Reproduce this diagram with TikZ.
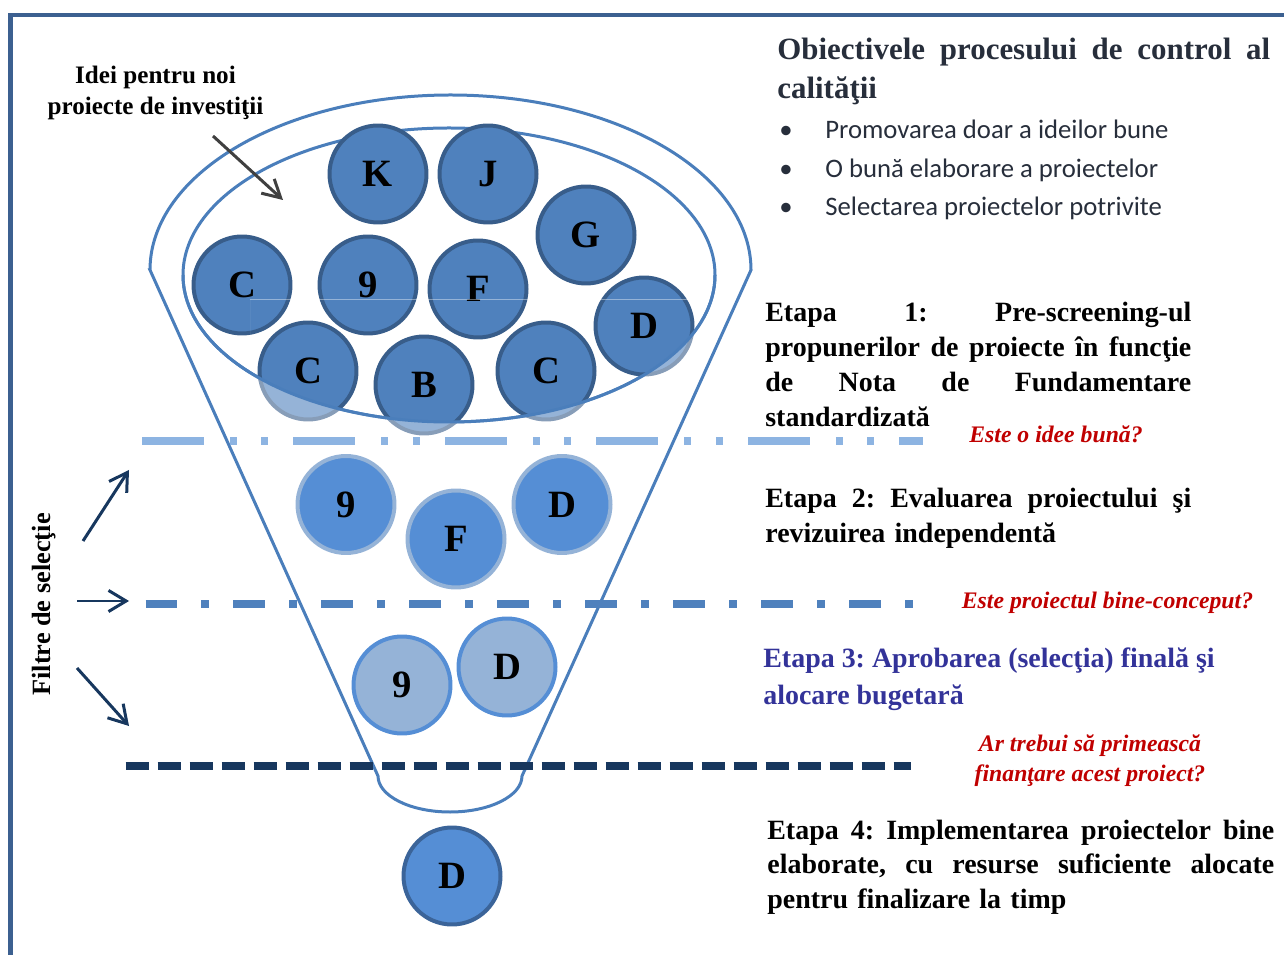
\documentclass[tikz,border=0pt]{standalone}
\usepackage{fontspec}
\setmainfont{Liberation Serif}
\newfontfamily\listfont{Carlito}
\usetikzlibrary{arrows.meta}
\frenchspacing

\definecolor{framec}{HTML}{3C6090}
\definecolor{funnelc}{HTML}{4A7EBB}
\definecolor{ballfill}{HTML}{4F81BD}
\definecolor{balledge}{HTML}{385D8A}
\definecolor{midfill}{HTML}{558ED5}
\definecolor{paleblue}{HTML}{95B3D7}
\definecolor{lightdash}{HTML}{8DB4E2}
\definecolor{navy}{HTML}{17375E}
\definecolor{alertred}{HTML}{C00000}
\definecolor{stagethree}{HTML}{333399}
\definecolor{titlec}{HTML}{272E3B}
\definecolor{enddark}{HTML}{3B6499}

% a line whose word spaces are stretched to a given width
\newcommand\jl[2]{\makebox[#1][s]{\spaceskip=.25em plus 1fil\xspaceskip=\spaceskip #2}}

\begin{document}
\begin{tikzpicture}[x=0.02cm,y=-0.02cm,
  ball/.style={circle, minimum size=1.94cm, inner sep=0pt, line width=0.08cm,
    font=\fontsize{22}{22}\selectfont\bfseries},
  topball/.style={ball, fill=ballfill, draw=balledge},
  midball/.style={ball, fill=midfill, draw=paleblue},
  lowball/.style={ball, fill=paleblue, draw=midfill},
  endball/.style={ball, fill=midfill, draw=enddark},
  funnel/.style={draw=funnelc, line width=0.06cm},
  stagetext/.style={anchor=base west, align=left, inner sep=0pt,
    font=\fontsize{15.9}{19.8}\selectfont\bfseries},
  question/.style={anchor=base, align=center, inner sep=0pt, text=alertred,
    font=\fontsize{13.5}{17.4}\selectfont\bfseries\itshape},
  filterarrow/.style={draw=navy, line width=0.06cm,
    -{Straight Barb[length=10pt, width=12pt]}},
]
\useasboundingbox (0,0) rectangle (1284,955);

% page frame
\draw[framec, line width=0.096cm, line join=miter] (10.8,960) -- (10.8,15) -- (1290,15);

% inner ellipse holding the ideas
\draw[funnel] (449,275) ellipse [x radius=266, y radius=147];

% ideas inside the funnel
\node[topball] (K)  at (378,174) {K};
\node[topball] (J)  at (488,174) {J};
\node[topball] (G)  at (586,235) {G};
\node[topball] (C1) at (242,285) {C};
\node[topball] (N1) at (368,285) {9};
\node[topball] (F1) at (478,289) {F};
\node[topball] (D1) at (644,326) {D};
\node[topball] (C2) at (308,371) {C};
\node[topball] (B)  at (424,385) {B};
\node[topball] (C3) at (546,371) {C};

% parts of the balls below the ellipse are faded
\begin{scope}
  \clip (250,300) rectangle (705,440);
  \fill[white, fill opacity=0.4, even odd rule]
    (250,300) rectangle (705,440)
    (449,275) ellipse [x radius=266, y radius=147];
\end{scope}
\draw[funnel] (715,275) arc[start angle=0, end angle=180, x radius=266, y radius=147];

% funnel outline
\draw[funnel] (150,270) -- (378,776)
  arc[start angle=180, end angle=0, x radius=72, y radius=36]
  -- (751,270) arc[start angle=0, end angle=-180, x radius=300.5, y radius=175] -- cycle;

% selection filters
\coordinate (f1a) at (142,441);   \coordinate (f1b) at (923,441);
\coordinate (f2a) at (145.5,604); \coordinate (f2b) at (913.5,604);
\coordinate (f3a) at (125.7,765.5); \coordinate (f3b) at (911,765.5);
\draw[lightdash, line width=0.16cm,
  dash pattern=on 1.24cm off 0.52cm on 0.14cm off 0.49cm on 0.14cm off 0.5cm] (f1a) -- (f1b);
\draw[ballfill, line width=0.15cm,
  dash pattern=on 0.64cm off 0.48cm on 0.16cm off 0.48cm] (f2a) -- (f2b);
\draw[navy, line width=0.16cm, dash pattern=on 0.46cm off 0.18cm] (f3a) -- (f3b);

% stage 2
\node[midball] (N2) at (346,504.5) {9};
\node[midball] (F2) at (456,539) {F};
\node[midball] (D2) at (562,504.5) {D};
% stage 3
\node[lowball] (N3) at (402,685) {9};
\node[lowball] (D3) at (507,667) {D};
% outcome
\node[endball] (D4) at (452,876) {D};

% label of the ideas
\node[anchor=base, align=center, inner sep=0pt,
  font=\fontsize{14.3}{18}\selectfont\bfseries] (ideas) at (155.5,115)
  {Idei pentru noi\\proiecte de investiţii};
\coordinate (ideaS) at (213,136);
\coordinate (ideaE) at (283,200);
\draw[draw=black!75, line width=0.06cm, -{Straight Barb[length=10pt, width=11pt]}] (ideaS) -- (ideaE);

% filter label and arrows
\node[rotate=90, anchor=base, inner sep=0pt, font=\fontsize{15}{15}\selectfont\bfseries]
  (filters) at (50.7,604.5) {Filtre de selecţie};
\coordinate (a1s) at (83,541);  \coordinate (a1e) at (129,470);
\coordinate (a2s) at (77,601);  \coordinate (a2e) at (129,601);
\coordinate (a3s) at (77,668);  \coordinate (a3e) at (129,726);
\draw[filterarrow] (a1s) -- (a1e);
\draw[filterarrow] (a2s) -- (a2e);
\draw[filterarrow] (a3s) -- (a3e);

% objectives
\node[anchor=base west, align=left, inner sep=0pt, text width=9.86cm, text=titlec,
  font=\fontsize{17.6}{22.3}\selectfont\bfseries] (title) at (777,59.5)
  {\jl{9.86cm}{Obiectivele procesului de control al}\\calităţii};
\node[anchor=base west, align=left, inner sep=0pt, text=titlec,
  font=\listfont\fontsize{15.2}{21.9}\selectfont] (goals) at (779,215.7)
  {\makebox[0.92cm][l]{\textbullet}Promovarea doar a ideilor bune\\
   \makebox[0.92cm][l]{\textbullet}O bună elaborare a proiectelor\\
   \makebox[0.92cm][l]{\textbullet}Selectarea proiectelor potrivite};

% stages
\node[stagetext, text width=8.52cm] (s1) at (765,322)
  {\jl{8.52cm}{Etapa 1: Pre-screening-ul}\\
   \jl{8.52cm}{propunerilor de proiecte în funcţie}\\
   \jl{8.52cm}{de Nota de Fundamentare}\\
   standardizată};
\node[question] (q1) at (1056,443) {Este o idee bună?};

\node[stagetext, text width=8.52cm] (s2) at (765,508)
  {\jl{8.52cm}{Etapa 2: Evaluarea proiectului şi}\\revizuirea independentă};
\node[question] (q2) at (1107.5,608) {Este proiectul bine-conceput?};

\node[stagetext, text=stagethree, font=\fontsize{15.9}{20.8}\selectfont\bfseries] (s3) at (763,704)
  {Etapa 3: Aprobarea (selecţia) finală şi\\alocare bugetară};
\node[question] (q3) at (1090,781.6) {Ar trebui să primească\\finanţare acest proiect?};

\node[stagetext, text width=10.14cm] (s4) at (767,839)
  {\jl{10.14cm}{Etapa 4: Implementarea proiectelor bine}\\
   \jl{10.14cm}{elaborate, cu resurse suficiente alocate}\\
   pentru finalizare la timp};
\end{tikzpicture}
\end{document}
